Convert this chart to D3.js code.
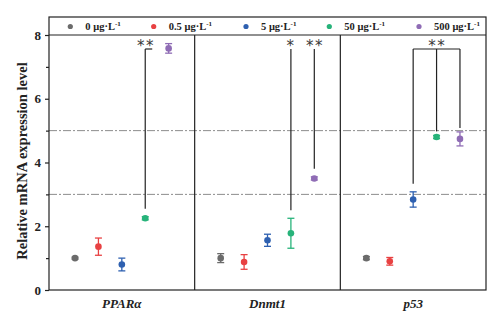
<!DOCTYPE html>
<html><head><meta charset="utf-8">
<script src="https://cdn.jsdelivr.net/npm/d3@7/dist/d3.min.js"></script>
<style>body{margin:0;background:#fff}svg{display:block}</style>
</head><body>
<svg id="c" width="503" height="323"></svg>
<script>
const genes = ["PPARα", "Dnmt1", "p53"];
const groups = ["0 μg·L", "0.5 μg·L", "5 μg·L", "50 μg·L", "500 μg·L"];
const colors = ["#6b6b6b", "#e84142", "#2e60b0", "#27b37a", "#8f6cb5"];
// mean values per gene, one per group
const meanPPARa = [1.0, 1.36, 0.80, 2.25, 7.58];
const meanDnmt1 = [1.0, 0.88, 1.56, 1.78, 3.50];
const meanP53   = [1.0, 0.90, 2.84, 4.80, 4.74];
// error (±)
const errPPARa = [0.03, 0.27, 0.20, 0.05, 0.15];
const errDnmt1 = [0.14, 0.23, 0.19, 0.47, 0.05];
const errP53   = [0.05, 0.12, 0.24, 0.05, 0.22];
const yTicks = [0, 2, 4, 6, 8];
const yMinor = [1, 3, 5, 7];
const refLines = [3, 5];
// significance marks
const sigs = [
  {gene: 0, from: 3, to: [4], label: "**", bracket: "half"},
  {gene: 1, from: 3, to: [], label: "*", bracket: "none"},
  {gene: 1, from: 4, to: [], label: "**", bracket: "none"},
  {gene: 2, from: 2, to: [3, 4], label: "**", bracket: "full"}
];

const means = [meanPPARa, meanDnmt1, meanP53];
const errs = [errPPARa, errDnmt1, errP53];

const svg = d3.select("#c");
const L = 49, R = 486, T = 17, B = 290;
const y = d3.scaleLinear().domain([0, 8]).range([B, 35]);
const xg = d3.scaleBand().domain(genes).range([L, R]);
const xi = d3.scalePoint().domain(d3.range(5)).range([-46.8, 46.8]);
const px = (g, i) => xg(genes[g]) + xg.bandwidth() / 2 + xi(i);
const serif = "'Liberation Serif','Times New Roman',serif";
const yTop = 49;

// reference dash-dot lines
svg.selectAll(".ref").data(refLines).enter().append("line")
  .attr("x1", L).attr("x2", R).attr("y1", d => y(d)).attr("y2", d => y(d))
  .attr("stroke", "#8c8c8c").attr("stroke-width", 1).attr("stroke-dasharray", "8,2,2,2");

// panel separators
svg.selectAll(".sep").data(genes.slice(1)).enter().append("line")
  .attr("x1", d => xg(d)).attr("x2", d => xg(d)).attr("y1", 35).attr("y2", B)
  .attr("stroke", "#222").attr("stroke-width", 1.2);

// frame
svg.append("rect").attr("x", L).attr("y", T).attr("width", R - L).attr("height", B - T)
  .attr("fill", "none").attr("stroke", "#222").attr("stroke-width", 1.2);
svg.append("line").attr("x1", L).attr("x2", R).attr("y1", 35).attr("y2", 35)
  .attr("stroke", "#222").attr("stroke-width", 1.2);

// y axis
const ax = svg.append("g").attr("transform", `translate(${L},0)`)
  .call(d3.axisLeft(y).tickValues(yTicks).tickSize(4).tickPadding(4).tickFormat(d3.format("d")));
ax.select(".domain").remove();
ax.selectAll("line").attr("stroke", "#222").attr("stroke-width", 1.2);
ax.selectAll("text").attr("font-family", serif).attr("font-weight", "bold").attr("font-size", 13).attr("fill", "#222");
const axm = svg.append("g").attr("transform", `translate(${L},0)`)
  .call(d3.axisLeft(y).tickValues(yMinor).tickSize(3).tickFormat(""));
axm.select(".domain").remove();
axm.selectAll("line").attr("stroke", "#222").attr("stroke-width", 1.2);

svg.append("text").attr("transform", `translate(27,161) rotate(-90)`)
  .attr("text-anchor", "middle").attr("font-family", serif).attr("font-weight", "bold")
  .attr("font-size", 14.5).attr("fill", "#222").text("Relative mRNA expression level");

// x labels
svg.selectAll(".xl").data(genes).enter().append("text")
  .attr("x", d => xg(d) + xg.bandwidth() / 2).attr("y", 308)
  .attr("text-anchor", "middle").attr("font-family", serif).attr("font-weight", "bold")
  .attr("font-style", "italic").attr("font-size", 13).attr("fill", "#222").text(d => d);

// significance lines
sigs.forEach(s => {
  const x0 = px(s.gene, s.from);
  const ytop0 = y(means[s.gene][s.from] + errs[s.gene][s.from]) - 8;
  const ln = (a, b, c, d) => svg.append("line").attr("x1", a).attr("y1", b).attr("x2", c).attr("y2", d)
    .attr("stroke", "#222").attr("stroke-width", 1.2);
  ln(x0, ytop0, x0, yTop);
  let cx = x0;
  if (s.bracket === "half") {
    ln(x0, yTop, x0 + 7, yTop);
  } else if (s.bracket === "full") {
    const xe = px(s.gene, s.to[s.to.length - 1]);
    ln(x0, yTop, xe, yTop);
    s.to.forEach(t => {
      const xt = px(s.gene, t);
      ln(xt, yTop, xt, y(means[s.gene][t] + errs[s.gene][t]) - 4);
    });
    cx = px(s.gene, s.to[0]);
  }
  svg.append("text").attr("x", cx + (s.label.length > 1 ? 0.75 : 0)).attr("y", yTop + 1.5).attr("text-anchor", "middle")
    .attr("font-family", "'DejaVu Sans',sans-serif").attr("font-size", 15).attr("fill", "#3a3a3a")
    .attr("letter-spacing", 1.5).text(s.label);
});

// points with error bars
genes.forEach((g, gi) => {
  const grp = svg.append("g");
  const data = groups.map((name, i) => ({i, m: means[gi][i], e: errs[gi][i]}));
  data.forEach(d => {
    const x = px(gi, d.i), c = colors[d.i];
    const yt = y(d.m + d.e), yb = y(d.m - d.e);
    grp.append("line").attr("x1", x).attr("x2", x).attr("y1", yt).attr("y2", yb).attr("stroke", c).attr("stroke-width", 1.3);
    [yt, yb].forEach(yy => grp.append("line").attr("x1", x - 3.5).attr("x2", x + 3.5).attr("y1", yy).attr("y2", yy).attr("stroke", c).attr("stroke-width", 1.3));
    grp.append("circle").attr("cx", x).attr("cy", y(d.m)).attr("r", 3.3).attr("fill", c);
  });
});

// legend
const legX = [70.3, 153.7, 246, 329.3, 419];
const leg = svg.selectAll(".leg").data(groups).enter().append("g")
  .attr("transform", (d, i) => `translate(${legX[i]},26.5)`);
leg.append("circle").attr("r", 2.6).attr("fill", (d, i) => colors[i]);
const lt = leg.append("text").attr("x", 15).attr("y", 3.8).attr("font-family", serif)
  .attr("font-weight", "bold").attr("font-size", 10.5).attr("fill", "#222");
lt.append("tspan").text(d => d);
lt.append("tspan").attr("dy", -4).attr("font-size", 7).text("-1");
</script>
</body></html>
